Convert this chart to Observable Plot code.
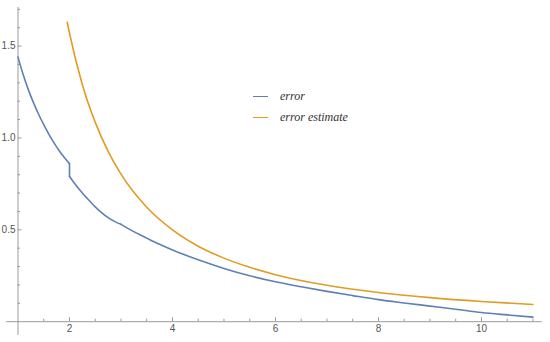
<!DOCTYPE html>
<html>
<head>
<meta charset="utf-8">
<script src="https://cdn.jsdelivr.net/npm/d3@7"></script>
<script src="https://cdn.jsdelivr.net/npm/@observablehq/plot@0.6"></script>
<style>
  body { margin: 0; background: #fff; }
  #wrap { position: relative; width: 550px; height: 342px; }
  .legend { position: absolute; left: 253px; top: 86px; font-family: "Liberation Serif", "DejaVu Serif", serif; font-style: italic; font-size: 12px; color: #333; }
  .legend .row { display: flex; align-items: center; height: 21px; }
  .legend .sw { width: 15px; height: 0; border-top: 1.6px solid; margin-right: 12px; }
</style>
</head>
<body>
<div id="wrap"></div>
<script>
// Series: "error" (piecewise; segment id marks each smooth piece)
const errorX = [1, 1.1, 1.2, 1.3, 1.4, 1.5, 1.6, 1.7, 1.8, 1.9, 2, 2, 2, 2, 2.1, 2.25, 2.4, 2.5, 2.6, 2.75, 2.9, 3, 3, 3.25, 3.5, 3.75, 4, 4.5, 5, 5.5, 6, 6.5, 7, 7.5, 8, 8.5, 9, 9.5, 10, 10.5, 11];
const errorY = [1.44, 1.345, 1.263, 1.192, 1.129, 1.072, 1.02, 0.973, 0.93, 0.893, 0.86, 0.86, 0.79, 0.79, 0.752, 0.70, 0.654, 0.625, 0.599, 0.566, 0.542, 0.53, 0.53, 0.49, 0.455, 0.421, 0.39, 0.337, 0.29, 0.25, 0.217, 0.19, 0.165, 0.142, 0.12, 0.102, 0.085, 0.068, 0.05, 0.037, 0.025];
const errorSeg = [0, 0, 0, 0, 0, 0, 0, 0, 0, 0, 0, 1, 1, 2, 2, 2, 2, 2, 2, 2, 2, 2, 3, 3, 3, 3, 3, 3, 3, 3, 3, 3, 3, 3, 3, 3, 3, 3, 3, 3, 3];
// Series: "error estimate"
const estimateX = [1.955, 2, 2.25, 2.5, 2.75, 3, 3.5, 4, 4.5, 5, 5.5, 6, 7, 8, 9, 10, 11];
const estimateY = [1.63, 1.57, 1.29, 1.085, 0.927, 0.803, 0.623, 0.5, 0.411, 0.346, 0.296, 0.256, 0.198, 0.159, 0.131, 0.11, 0.094];
// Tick labels
const xMajor = [2, 4, 6, 8, 10];
const xMinor = [1.5, 2.5, 3, 3.5, 4.5, 5, 5.5, 6.5, 7, 7.5, 8.5, 9, 9.5, 10.5, 11];
const yMajor = [0.5, 1.0, 1.5];
const yMinor = [0.1, 0.2, 0.3, 0.4, 0.6, 0.7, 0.8, 0.9, 1.1, 1.2, 1.3, 1.4, 1.6, 1.7];
const seriesNames = ["error", "error estimate"];
const colors = ["#5E81B5", "#E19C24"];

const xDomain = [1, 11.18];
const yDomain = [0, 1.71];

const errorData = errorX.map((x, i) => ({x, y: errorY[i], seg: errorSeg[i]}));
const estimateData = estimateX.map((x, i) => ({x, y: estimateY[i]}));

const axisColor = "#9a9a9a";
const labelColor = "#555";

const chart = Plot.plot({
  width: 550,
  height: 342,
  marginLeft: 17.5,
  marginRight: 8.3,
  marginTop: 7,
  marginBottom: 20.8,
  style: {fontFamily: "'Liberation Sans', Arial, sans-serif", fontSize: "10px", background: "#fff", overflow: "visible"},
  x: {domain: xDomain, label: null},
  y: {domain: yDomain, label: null},
  marks: [
    Plot.ruleX([xDomain[0]], {y1: -0.075, y2: yDomain[1], stroke: axisColor, strokeWidth: 1}),
    Plot.ruleY([0], {x1: 0.78, x2: xDomain[1], stroke: axisColor, strokeWidth: 1}),
    Plot.axisX(xMajor, {tickSize: -4, tickPadding: 7, stroke: axisColor, color: labelColor, label: null, tickFormat: d => String(d)}),
    Plot.axisX(xMinor, {tickSize: -2.5, stroke: axisColor, label: null, tickFormat: () => ""}),
    Plot.axisY(yMajor, {tickSize: -4, tickPadding: 6.5, stroke: axisColor, color: labelColor, label: null, tickFormat: d => d.toFixed(1)}),
    Plot.axisY(yMinor, {tickSize: -2.5, stroke: axisColor, label: null, tickFormat: () => ""}),
    Plot.line(errorData, {x: "x", y: "y", z: "seg", stroke: colors[0], strokeWidth: 1.6, curve: "monotone-x"}),
    Plot.line(estimateData, {x: "x", y: "y", stroke: colors[1], strokeWidth: 1.6, curve: "monotone-x"})
  ]
});

const wrap = document.getElementById("wrap");
wrap.appendChild(chart);

const legend = document.createElement("div");
legend.className = "legend";
seriesNames.forEach((name, i) => {
  const row = document.createElement("div");
  row.className = "row";
  const sw = document.createElement("span");
  sw.className = "sw";
  sw.style.borderColor = colors[i];
  const t = document.createElement("span");
  t.textContent = name;
  row.appendChild(sw);
  row.appendChild(t);
  legend.appendChild(row);
});
wrap.appendChild(legend);
</script>
</body>
</html>
